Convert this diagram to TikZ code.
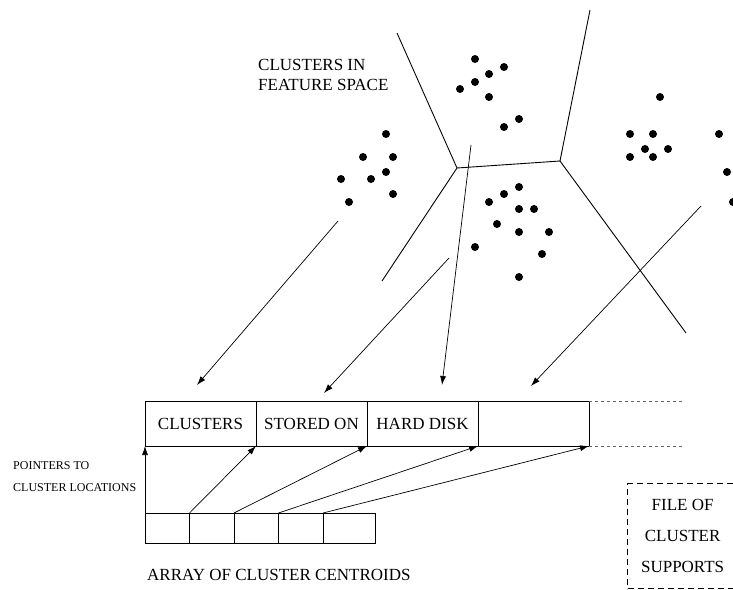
\documentclass[tikz,border=0pt]{standalone}
\usepackage{fontspec}
\setmainfont{Liberation Serif}
\usetikzlibrary{arrows.meta,positioning}
\tikzset{
  slot/.style={draw, rectangle, minimum width=111pt, minimum height=45pt, inner sep=0pt, outer sep=0pt, align=center, font=\fontsize{17}{20}\selectfont},
  cell/.style={draw, rectangle, minimum width=44.5pt, minimum height=30pt, inner sep=0pt, outer sep=0pt},
  filebox/.style={draw, dash pattern=on 6pt off 4pt, line width=1.2pt, minimum width=110pt, minimum height=105pt, inner sep=0pt, align=center, font=\fontsize{17}{31}\selectfont},
  txt/.style={inner sep=0pt, align=left, font=\fontsize{17}{20.5}\selectfont},
  smalltxt/.style={inner sep=0pt, align=left, font=\fontsize{12}{22}\selectfont},
  arrow/.style={-{Latex[length=9pt,width=6pt]}, line width=0.7pt},
  border/.style={line width=0.9pt},
  dotline/.style={dash pattern=on 3pt off 3pt, black!60, line width=1pt}
}
\begin{document}
\begin{tikzpicture}[x=1pt, y=-1pt]
  \useasboundingbox (0,0) rectangle (733,589);
  \clip (0,0) rectangle (733,589);
  \node[txt, anchor=west] (space) at (258,75) {CLUSTERS IN\\FEATURE SPACE};
  \coordinate (v1) at (457,168);
  \coordinate (v2) at (560,161);
  \draw[border] (397,33) -- (v1) -- (v2) -- (590,10);
  \draw[border] (382,281) -- (v1);
  \draw[border] (v2) -- (686,333);
  \foreach \p in {(475,59),(504,67),(489,74),(475,82),(460,89),(489,97),(519,119),(504,127),
                  (386,134),(363,157),(393,157),(386,172),(341,179),(371,179),(393,194),(349,202),
                  (519,187),(504,194),(489,202),(519,209),(534,209),(497,224),(519,232),(549,232),(475,247),(542,254),(519,277),
                  (660,97),(630,134),(653,134),(645,149),(668,149),(630,157),(653,157),
                  (719,134),(727,172),(733,202)}
    \fill \p circle (4pt);
  \node[slot, anchor=north west] (b1) at (145,401) {CLUSTERS};
  \node[slot, right=0pt of b1] (b2) {STORED ON};
  \node[slot, right=0pt of b2] (b3) {HARD DISK};
  \node[slot, right=0pt of b3] (b4) {};
  \coordinate (d1) at (683,401);
  \coordinate (d2) at (683,446);
  \draw[dotline] (b4.north east) -- (d1);
  \draw[dotline] (b4.south east) -- (d2);
  \coordinate (s1) at (338,221);
  \coordinate (s2) at (449,258);
  \coordinate (s3) at (471,145);
  \coordinate (s4) at (701,206);
  \coordinate (e1) at (197,385);
  \coordinate (e2) at (324,393);
  \coordinate (e3) at (442,385);
  \coordinate (e4) at (531,386);
  \draw[arrow] (s1) -- (e1);
  \draw[arrow] (s2) -- (e2);
  \draw[arrow] (s3) -- (e3);
  \draw[arrow] (s4) -- (e4);
  \node[cell, anchor=north west] (c1) at (145,513) {};
  \node[cell, right=0pt of c1] (c2) {};
  \node[cell, right=0pt of c2] (c3) {};
  \node[cell, right=0pt of c3] (c4) {};
  \node[cell, right=0pt of c4, minimum width=52pt] (c5) {};
  \draw[arrow] (c1.north west) -- (b1.south west);
  \draw[arrow] (c2.north west) -- (b1.south east);
  \draw[arrow] (c3.north west) -- (b2.south east);
  \draw[arrow] (c4.north west) -- (b3.south east);
  \draw[arrow] (c5.north west) -- (b4.south east);
  \node[smalltxt, anchor=west] (pointers) at (13,477) {POINTERS TO\\CLUSTER LOCATIONS};
  \node[txt, anchor=west] (array) at (147,575) {ARRAY OF CLUSTER CENTROIDS};
  \node[filebox, anchor=north west] (file) at (627,483) {FILE OF\\CLUSTER\\SUPPORTS};
\end{tikzpicture}
\end{document}
